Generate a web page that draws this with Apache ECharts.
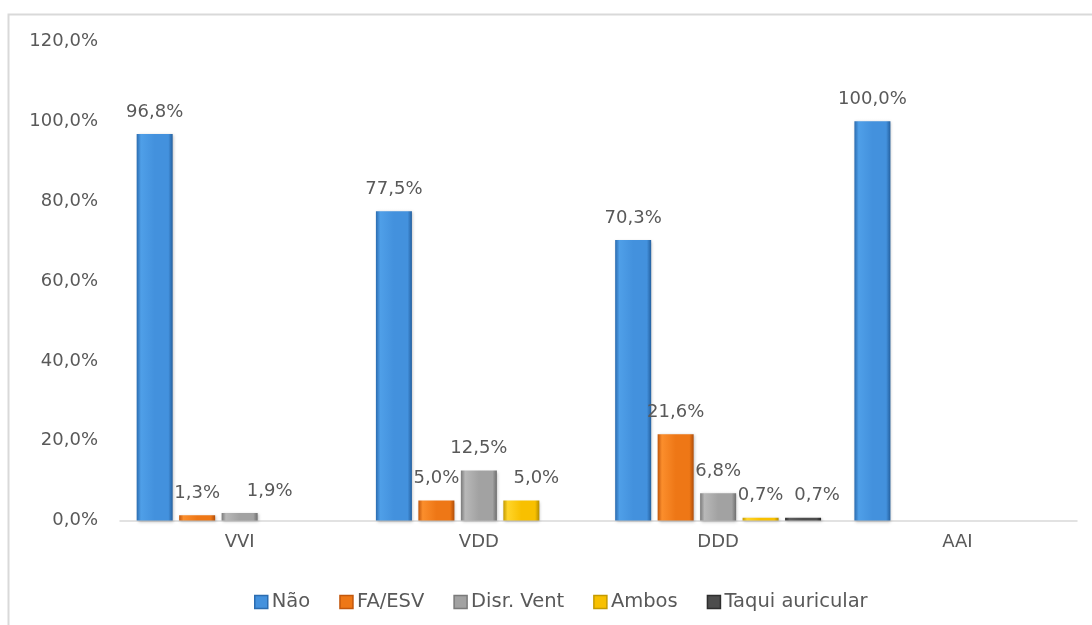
<!DOCTYPE html>
<html>
<head>
<meta charset="utf-8">
<script src="https://cdn.jsdelivr.net/npm/echarts@6/dist/echarts.min.js"></script>
<style>
html,body{margin:0;padding:0;background:#fff;}
#chart{width:1092px;height:625px;}
</style>
</head>
<body>
<div id="chart"></div>
<script>
var categories = ['VVI', 'VDD', 'DDD', 'AAI'];
var seriesNames = ['Não', 'FA/ESV', 'Disr. Vent', 'Ambos', 'Taqui auricular'];
var nao = [96.8, 77.5, 70.3, 100.0];
var faEsv = [1.3, 5.0, 21.6, null];
var disrVent = [1.9, 12.5, 6.8, null];
var ambos = [null, 5.0, 0.7, null];
var taqui = [null, null, 0.7, null];
var yTicks = [0, 20, 40, 60, 80, 100, 120];

var values = [nao, faEsv, disrVent, ambos, taqui];
// bevel-like colours: [left edge, light, mid, right edge]
var palettes = [
  ['#2b6cb0', '#4f9fe8', '#4391dd', '#24609f'],
  ['#c2570c', '#fb8e2c', '#ee7716', '#b04e0a'],
  ['#7a7a7a', '#b8b8b8', '#a2a2a2', '#6e6e6e'],
  ['#c49a00', '#ffd52a', '#f8c000', '#b38c00'],
  ['#2e2e2e', '#5e5e5e', '#4d4d4d', '#262626']
];
// manual label nudges seen in the reference: [seriesIndex, dataIndex, dx]
var labelNudges = [[2, 0, 30], [3, 1, 15], [4, 2, 14]];

function fmt(v) { return v.toFixed(1).replace('.', ',') + '%'; }

function grad(p) {
  return new echarts.graphic.LinearGradient(0, 0, 1, 0, [
    {offset: 0, color: p[0]},
    {offset: 0.12, color: p[1]},
    {offset: 0.5, color: p[2]},
    {offset: 0.88, color: p[2]},
    {offset: 1, color: p[3]}
  ]);
}

var series = seriesNames.map(function (name, si) {
  var data = values[si].map(function (v, di) {
    var item = {value: v};
    labelNudges.forEach(function (n) {
      if (n[0] === si && n[1] === di) item.label = {offset: [n[2], 0]};
    });
    return item;
  });
  return {
    name: name,
    type: 'bar',
    barWidth: 36,
    barGap: '18%',
    data: data,
    itemStyle: {
      color: grad(palettes[si]),
      shadowColor: 'rgba(0,0,0,0.25)',
      shadowBlur: 3,
      shadowOffsetX: 1,
      shadowOffsetY: 1
    },
    label: {
      show: true,
      position: 'top',
      distance: 13,
      color: '#595959',
      fontFamily: 'DejaVu Sans',
      fontSize: 18,
      formatter: function (p) { return p.value == null ? '' : fmt(p.value); }
    }
  };
});

var chart = echarts.init(document.getElementById('chart'), null, {renderer: 'canvas'});
chart.setOption({
  animation: false,
  backgroundColor: '#ffffff',
  graphic: [{
    type: 'rect',
    shape: {x: 8.5, y: 14.5, width: 1200, height: 800},
    style: {fill: 'none', stroke: '#d9d9d9', lineWidth: 2},
    silent: true
  }],
  grid: {left: 120, right: 15, top: 41.5, height: 479},
  legend: {
    left: 249,
    top: 587,
    itemWidth: 13,
    itemHeight: 13,
    itemGap: 29,
    icon: 'rect',
    textStyle: {color: '#595959', fontFamily: 'DejaVu Sans', fontSize: 19.5, padding: [0, 0, 0, -1]},
    data: seriesNames.map(function (n, i) {
      return {name: n, itemStyle: {color: palettes[i][2], borderColor: palettes[i][0], borderWidth: 1.5}};
    })
  },
  xAxis: {
    type: 'category',
    data: categories,
    axisLine: {lineStyle: {color: '#d9d9d9', width: 1.5}},
    axisTick: {show: false},
    axisLabel: {color: '#595959', fontFamily: 'DejaVu Sans', fontSize: 18, margin: 13}
  },
  yAxis: {
    type: 'value',
    min: yTicks[0],
    max: yTicks[yTicks.length - 1],
    interval: 20,
    splitLine: {show: false},
    axisLine: {show: false},
    axisTick: {show: false},
    axisLabel: {color: '#595959', fontFamily: 'DejaVu Sans', fontSize: 18, margin: 22, formatter: fmt}
  },
  series: series
});
</script>
</body>
</html>
